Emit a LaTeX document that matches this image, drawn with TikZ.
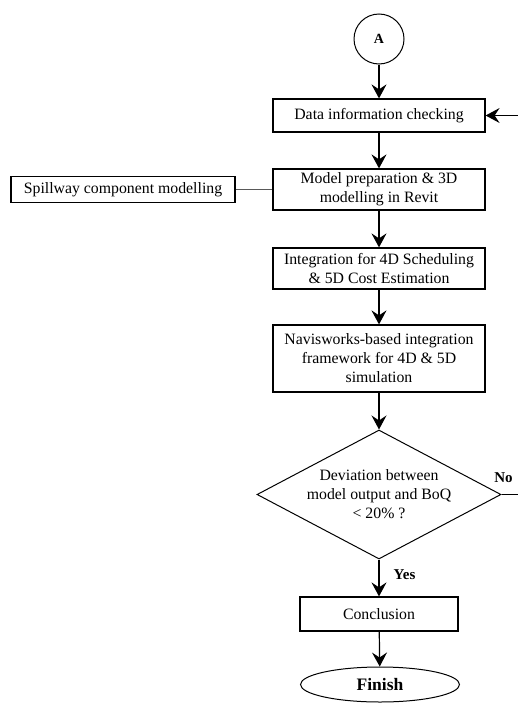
\documentclass[tikz,border=0pt]{standalone}
\usepackage{fontspec}
\setmainfont{Liberation Serif}
\usetikzlibrary{shapes.geometric,arrows.meta}
\begin{document}
\begin{tikzpicture}[x=1pt,y=-1pt,
        every node/.style={font=\fontsize{15.8}{19}\selectfont},
        box/.style={draw,line width=1.2pt,minimum width=212pt,align=center,inner sep=2pt},
        arr/.style={line width=1.2pt,-{Stealth[length=14pt,width=15pt,inset=5pt]}},
        lbl/.style={font=\fontsize{15}{18}\selectfont\bfseries}]
                \useasboundingbox (0,0) rectangle (518,704);

                \node[draw,circle,line width=1pt,minimum size=50pt,inner sep=0pt,font=\fontsize{14}{16}\selectfont\bfseries] (circA) at (379,39) {A};
                \node[box,minimum height=33pt] (data) at (379,115.5) {Data information checking};
                \node[box,minimum height=41pt] (model) at (379,189.5) {Model preparation \& 3D\\modelling in Revit};
                \node[box,minimum width=224pt,minimum height=26pt] (spill) at (123,189.5) {Spillway component modelling};
                \node[box,minimum height=41pt] (integ) at (379,268.5) {Integration for 4D Scheduling\\\& 5D Cost Estimation};
                \node[box,minimum height=67pt] (navis) at (379,358.5) {Navisworks-based integration\\framework for 4D \& 5D\\simulation};
                \node[draw,diamond,line width=1pt,minimum width=244pt,minimum height=129pt,inner sep=0pt] (dec) at (379,494.5) {};
                \node[align=center,inner sep=0pt] (dectxt) at (dec.center) {Deviation between\\model output and BoQ\\< 20\% ?};
                \node[box,minimum width=158pt,minimum height=34pt] (concl) at (379,614) {Conclusion};
                \node[draw,ellipse,line width=1pt,minimum width=159pt,minimum height=35pt,inner sep=0pt,font=\fontsize{17.5}{20}\selectfont\bfseries] (finish) at (380,684.5) {Finish};

                \foreach \a/\b in {circA/data, data/model, model/integ, integ/navis, navis/dec, dec/concl, concl/finish}
                \draw[arr] (\a) -- (\b);

                \draw[gray!70!black] (spill) -- (model);
                \coordinate (back) at (518,115.5);
                \draw[arr] (back) -- (data);
                \coordinate (noend) at (518,494.5);
                \draw[line width=1pt] (dec.east) -- (noend);

                \node[lbl] (no) at (503.5,478) {No};
                \node[lbl] (yes) at (404.5,575) {Yes};
            \end{tikzpicture}
\end{document}
